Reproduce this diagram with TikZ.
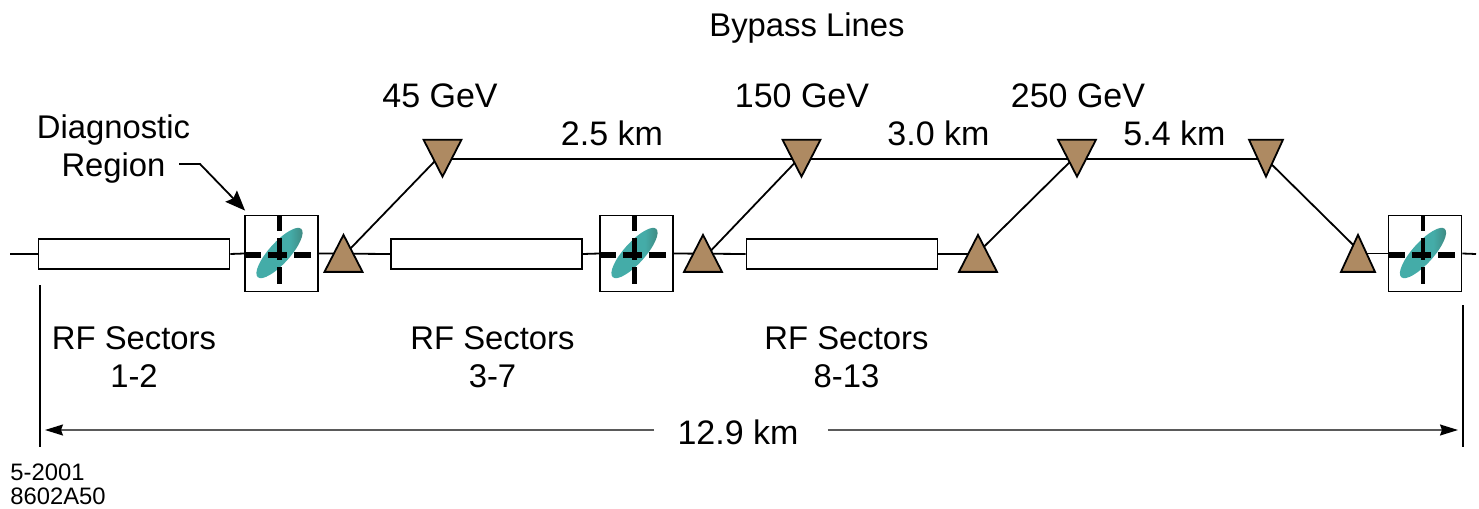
\documentclass[tikz,border=0pt]{standalone}
\usepackage{fontspec}
\setmainfont{Liberation Sans}
\usetikzlibrary{arrows.meta, shapes.geometric, backgrounds, calc}
\definecolor{BendBrown}{RGB}{174, 138, 98}
\definecolor{BeamTeal}{RGB}{68, 172, 168}
\definecolor{BeamDark}{RGB}{62, 130, 122}
\definecolor{DimGray}{RGB}{90, 90, 90}
\pgfdeclarehorizontalshading{beamshade}{100bp}{color(0bp)=(BeamTeal); color(60bp)=(BeamTeal); color(75bp)=(BeamDark); color(100bp)=(BeamDark)}
\tikzset{
    label text/.style={inner sep=0pt, align=center, font=\fontsize{16.4}{19}\selectfont},
    number text/.style={inner sep=0pt, align=center, font=\fontsize{17}{19}\selectfont},
    small text/.style={inner sep=0pt, align=left, font=\fontsize{11.9}{12}\selectfont},
    rf box/.style={draw=black, fill=white, line width=0.9pt, minimum width=95.5pt, minimum height=15pt, inner sep=0pt},
    diag box/.style={draw=black, fill=white, line width=0.9pt, minimum width=36.5pt, minimum height=38pt, inner sep=0pt},
    bend/.style={draw=black, fill=BendBrown, line width=0.9pt, isosceles triangle, isosceles triangle stretches, inner sep=0pt, minimum width=#1, minimum height=18.5pt, anchor=apex},
    bend up/.style={bend=#1, shape border rotate=90},
    bend down/.style={bend=#1, shape border rotate=-90},
    beam/.style={line width=0.9pt},
    cross h/.style={line width=2.7pt, dash pattern=on 8pt off 3.5pt on 9.5pt off 3.5pt on 9pt off 20pt},
    cross v/.style={line width=2.3pt, dash pattern=on 7.5pt off 3.5pt on 11pt off 3.5pt on 8.5pt off 20pt}
}
\begin{document}
\begin{tikzpicture}[x=0.5pt, y=-0.5pt]
        \useasboundingbox (0,0) rectangle (1479,509);

        % --- RF SECTORS ---
        \node[rf box] (rf1) at (134, 254) {};
        \node[rf box] (rf2) at (486.5, 254) {};
        \node[rf box] (rf3) at (842, 254) {};

        % --- DIAGNOSTIC REGIONS ---
        \foreach \name/\xpos in {diag1/281.5, diag2/636.5, diag3/1425} {
            \node[diag box] (\name) at (\xpos, 253.5) {};
            \node[ellipse, rotate=48, minimum width=32.5pt, minimum height=10.5pt, inner sep=0pt, shading=beamshade] (\name beam) at (\xpos-2, 253) {};
            \draw[cross v] (\xpos-2, 216) -- (\xpos-2, 284);
            \draw[cross h] (\xpos-36.5, 255) -- (\xpos+29.5, 255);
        }

        % --- BENDS ---
        \node[bend up=19pt] (up1) at (343.5, 232.5) {};
        \node[bend up=19pt] (up2) at (703, 232.5) {};
        \node[bend up=19pt] (up3) at (978, 232.5) {};
        \node[bend up=17pt] (up4) at (1358, 232.5) {};
        \node[bend down=19pt] (down1) at (442.5, 179) {};
        \node[bend down=19pt] (down2) at (801.5, 179) {};
        \node[bend down=19pt] (down3) at (1077, 179) {};
        \node[bend down=17pt] (down4) at (1266, 179) {};
        \foreach \name in {up1, up2, up3, up4, down1, down2, down3, down4} {
            \coordinate (\name c) at ($(\name.apex)!0.5!(\name.lower side)$);
        }

        % --- BEAM LINES ---
        \coordinate (beamstart) at (10, 254);
        \coordinate (beamend) at (1476, 254);
        \begin{scope}[on background layer]
            \draw[beam] (beamstart) -- (rf1.west);
            \draw[beam] (rf1.east) -- (diag1.west);
            \draw[beam] (diag1.east) -- (rf2.west);
            \draw[beam] (rf2.east) -- (diag2.west);
            \draw[beam] (diag2.east) -- (rf3.west);
            \draw[beam] (rf3.east) -- (up3c |- rf3.east);
            \draw[beam] (up4c |- diag3.west) -- (diag3.west);
            \draw[beam] (diag3.east) -- (beamend);

            % Bypass
            \foreach \n/\du/\dd in {1/3/-5.5, 2/6/-3, 3/0/-4, 4/3/0} {
                \draw[beam] ($(up\n c)+(\du,0)$) -- ($(down\n c)+(\dd,0)$);
            }
            \draw[beam] (down1c) -- (down2c);
            \draw[beam] (down2c) -- (down3c);
            \draw[beam] (down3c) -- (down4c);
        \end{scope}

        % --- LABELS ---
        \node[label text] (bypass) at (807, 28) {Bypass Lines};
        \node[number text] (e45) at (440, 96) {45 GeV};
        \node[number text] (e150) at (802, 96) {150 GeV};
        \node[number text] (e250) at (1078, 96) {250 GeV};
        \node[number text] (len1) at (612, 133) {2.5 km};
        \node[number text] (len2) at (938.5, 133) {3.0 km};
        \node[number text] (len3) at (1174.5, 133) {5.4 km};
        \node[label text] (diaglabel) at (113.5, 149) {Diagnostic\\Region};
        \node[label text] (sec1) at (134, 357) {RF Sectors\\1-2};
        \node[label text] (sec2) at (492.5, 357) {RF Sectors\\3-7};
        \node[label text] (sec3) at (846.5, 357) {RF Sectors\\8-13};
        \node[small text, anchor=west] (stamp) at (10, 484) {5-2001\\8602A50};

        % Pointer to the diagnostic region
        \coordinate (pointstart) at (179, 164);
        \coordinate (pointbend) at (200, 164);
        \draw[beam, -{Stealth[length=10pt, width=8pt, inset=1.5pt]}] (pointstart) -- (pointbend) -- ($(diag1.north west)+(1,-4)$);

        % --- TOTAL LENGTH ---
        \coordinate (tickleft) at (40, 285);
        \coordinate (tickleftend) at (40, 447);
        \coordinate (tickright) at (1463, 305);
        \coordinate (tickrightend) at (1463, 447);
        \coordinate (dimleft) at (45, 430);
        \coordinate (dimright) at (1458, 430);
        \draw[beam] (tickleft) -- (tickleftend);
        \draw[beam] (tickright) -- (tickrightend);
        \node[number text, inner xsep=11.5pt] (total) at (738, 432) {12.9 km};
        \draw[DimGray, line width=0.7pt, -{Stealth[length=9pt, width=5.5pt, inset=1pt, black]}] (total.west |- dimleft) -- (dimleft);
        \draw[DimGray, line width=0.7pt, shorten <=3pt, -{Stealth[length=9pt, width=5.5pt, inset=1pt, black]}] (total.east |- dimright) -- (dimright);
    \end{tikzpicture}
\end{document}
